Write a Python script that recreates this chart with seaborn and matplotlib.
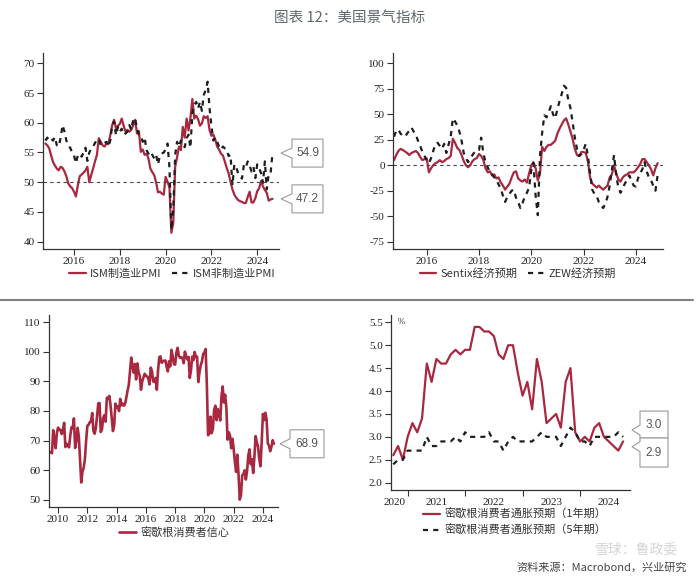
import matplotlib
matplotlib.use('Agg')
import matplotlib.pyplot as plt
import matplotlib.transforms as mtransforms
from matplotlib.patches import Polygon
from matplotlib.lines import Line2D
import pandas as pd
import seaborn as sns

# ---------------- data (monthly) ----------------
ism_start = '2014-10-01'
ism_mfg = [56.5, 56.2, 55.7,
           54.5, 53.4, 52.8, 52.3, 52.0, 52.6, 52.4, 51.8, 51.0, 49.8, 49.3, 49.0,
           48.4, 47.6, 49.5, 51.0, 51.3, 51.6, 52.0, 52.6, 50.0, 51.2, 52.3, 53.5,
           54.6, 57.4, 56.8, 56.2, 56.0, 56.5, 56.4, 57.9, 59.6, 60.5, 59.0, 59.5,
           59.8, 60.7, 59.5, 58.5, 58.8, 58.5, 58.8, 59.6, 60.5, 58.2, 58.6, 55.1,
           55.5, 54.6, 54.8, 54.0, 52.3, 51.7, 51.2, 50.0, 48.3, 48.4, 48.1, 47.9,
           50.9, 50.1, 49.1, 41.5, 43.1, 52.6, 54.2, 56.0, 55.4, 59.3, 57.5, 60.7,
           58.7, 60.8, 64.0, 60.7, 61.2, 60.6, 59.5, 59.9, 61.1, 60.8, 61.1, 58.8,
           57.8, 58.0, 57.2, 56.0, 55.5, 54.8, 54.5, 53.5, 52.4, 51.5, 50.1, 48.8,
           47.9, 47.4, 47.0, 46.8, 46.7, 46.5, 46.5, 47.5, 48.4, 46.6, 46.6, 47.3,
           48.5, 49.0, 50.2, 49.3, 48.7, 48.2, 46.9, 47.1, 47.2]
ism_srv = [57.0, 57.5, 57.0,
           57.3, 57.0, 57.6, 56.2, 56.0, 57.5, 59.6, 58.5, 57.0, 56.2, 55.8, 55.0,
           54.5, 53.2, 54.5, 54.8, 54.3, 55.0, 55.8, 53.6, 55.0, 55.6, 56.0, 56.6,
           57.1, 57.3, 56.2, 56.5, 56.6, 56.8, 56.0, 57.0, 59.6, 60.2, 57.9, 59.3,
           58.5, 59.0, 58.0, 58.2, 58.5, 59.6, 58.8, 60.5, 60.8, 59.0, 58.0, 57.9,
           56.8, 57.5, 55.4, 54.8, 55.2, 54.6, 54.0, 54.6, 53.0, 54.5, 54.8, 55.0,
           55.5, 56.5, 52.5, 42.0, 45.4, 54.6, 56.8, 56.0, 57.0, 56.3, 55.9, 57.4,
           58.0, 55.8, 61.6, 63.0, 63.5, 62.4, 63.5, 62.0, 64.7, 65.5, 66.9, 62.5,
           59.5, 57.0, 57.5, 56.8, 56.0, 55.5, 56.0, 55.7, 55.5, 54.4, 54.6, 49.5,
           53.0, 52.5, 51.5, 51.2, 50.6, 52.9, 52.5, 53.5, 52.8, 51.8, 52.6, 50.7,
           53.0, 52.4, 51.5, 49.9, 53.5, 48.8, 51.4, 51.5, 54.9]

exp_start = '2014-10-01'
sentix = [5, 10, 14,
          16, 15, 13.5, 12, 10, 12, 13, 14, 12, 8, 5, 6,
          6.7, -7, -3, 0, 2, 3, 5, 3, 4, 6, 7, 9,
          26, 22, 17, 15, 10, 4, 0, -2, 0, 4, 6, 7,
          11, 9, 5, -3, -7, -6, -10, -9, -13, -12, -17, -20,
          -24, -21, -18, -12, -7, -6, -13, -15, -16, -14, -17, -8,
          0, 3, -3, -15, -8, 18, 14, 18, 20, 20, 22, 24,
          31, 36, 40, 44, 46, 40, 33, 26, 16, 10, 9, 13,
          13, 12, 4, -12, -18, -20, -22, -20, -22, -24, -22, -20,
          -12, -9, 0, -8, -14, -16, -12, -10, -9, -7, -7, -7,
          -5, -2, 1, 6, 6, 3, 0, -4, -10, -3, 2]
zew = [28, 34, 35,
       31, 29, 28, 31, 34, 37, 33, 30, 24, 19, 13, 9,
       5, 2, 7, 14, 21, 22, 19, 16, 21, 12, 20, 28,
       46, 43, 39, 33, 24, 12, 7, 3, 6, 10, 13, 15,
       15, 27, 12, 3, -2, -7, -9, -12, -14, -19, -23, -30,
       -36, -31, -28, -25, -24, -32, -36, -42, -37, -31, -27, -22,
       -5, 2, -30, -49, 9, 32, 49, 47, 52, 58, 50, 46,
       55, 63, 70, 78, 76, 64, 56, 42, 27, 16, 9, 11,
       15, 21, 9, -8, -24, -28, -30, -36, -39, -42, -38, -31,
       -20, -5, 10, -10, -22, -27, -22, -18, -14, -10, -15, -20,
       -21, -13, -8, -4, 3, -6, -12, -15, -20, -25, -10]

umich_start = '2009-07-01'
umich = [66.0, 65.7, 73.5, 70.6, 67.4, 72.5,
         74.4, 73.6, 73.6, 72.2, 73.6, 76.0, 67.8, 68.9, 68.2, 67.7, 71.6, 74.5,
         74.2, 77.5, 67.5, 69.8, 74.3, 71.5, 63.7, 55.8, 59.5, 60.8, 63.7, 69.9,
         75.0, 75.3, 76.2, 76.4, 79.3, 73.2, 72.3, 74.3, 78.3, 82.6, 82.7, 72.9,
         73.8, 77.6, 78.6, 76.4, 84.5, 84.1, 85.1, 82.1, 77.5, 73.2, 75.1, 82.5,
         81.2, 81.6, 80.0, 84.1, 81.9, 82.5, 81.8, 82.5, 84.6, 86.9, 88.8, 93.6,
         98.1, 95.4, 93.0, 95.9, 90.7, 96.1, 93.1, 91.9, 87.2, 90.0, 91.3, 92.6,
         92.0, 91.7, 91.0, 89.0, 94.7, 93.5, 90.0, 89.8, 91.2, 87.2, 93.8, 98.2,
         98.5, 96.3, 96.9, 97.0, 97.1, 95.0, 93.4, 96.8, 95.1, 100.7, 98.5, 95.9,
         95.7, 99.7, 101.4, 98.8, 98.0, 98.2, 97.9, 96.2, 100.1, 98.6, 97.5, 98.3,
         91.2, 93.8, 98.4, 97.2, 100.0, 98.2, 98.4, 89.8, 93.2, 95.5, 96.8, 99.3,
         99.8, 101.0, 89.1, 71.8, 72.3, 78.1, 72.5, 74.1, 80.4, 81.8, 76.9, 80.7,
         79.0, 76.8, 84.9, 88.3, 82.9, 85.5, 81.2, 70.3, 72.8, 71.7, 67.4, 70.6,
         67.2, 62.8, 59.4, 65.2, 58.4, 50.0, 51.5, 58.2, 58.6, 59.9, 56.8, 59.7,
         64.9, 67.0, 62.0, 63.7, 59.0, 64.4, 71.5, 69.4, 67.9, 63.8, 61.3, 69.7,
         79.0, 76.9, 79.4, 77.2, 69.1, 68.2, 66.4, 67.9, 70.1, 68.9]

infl_start = '2020-10-01'
infl_1y = [2.6, 2.8, 2.5,
           3.0, 3.3, 3.1, 3.4, 4.6, 4.2, 4.7, 4.6, 4.6, 4.8, 4.9, 4.8,
           4.9, 4.9, 5.4, 5.4, 5.3, 5.3, 5.2, 4.8, 4.7, 5.0, 5.0, 4.4,
           3.9, 4.2, 3.6, 4.7, 4.2, 3.3, 3.4, 3.5, 3.2, 4.2, 4.5, 3.1,
           2.9, 3.0, 2.9, 3.2, 3.3, 3.0, 2.9, 2.8, 2.7, 2.9]
infl_5y = [2.4, 2.5, 2.5,
           2.7, 2.7, 2.7, 2.7, 3.0, 2.8, 2.8, 2.9, 2.9, 2.9, 3.0, 2.9,
           3.1, 3.0, 3.0, 3.0, 3.0, 3.1, 2.9, 2.9, 2.7, 2.9, 3.0, 2.9,
           2.9, 2.9, 2.9, 3.0, 3.1, 3.0, 3.0, 3.0, 2.8, 3.0, 3.2, 3.1,
           2.9, 2.9, 2.8, 3.0, 3.0, 3.0, 3.0, 3.0, 3.1, 3.0]

RED = '#a8283f'
DARK = '#1e1e1e'


def month_axis(start, n):
    d = pd.date_range(start, periods=n, freq='MS')
    return d.year + (d.month - 1) / 12.0


def style_axes(ax, xlim, ylim, xticks, yticks, yfmt='{:g}'):
    ax.set_xlim(xlim)
    ax.set_ylim(ylim)
    ax.set_xticks(xticks)
    ax.set_xticklabels([str(t) for t in xticks])
    ax.set_yticks(yticks)
    ax.set_yticklabels([yfmt.format(t) for t in yticks])
    sns.despine(ax=ax)
    for s in ['left', 'bottom']:
        ax.spines[s].set_color('#333333')
        ax.spines[s].set_linewidth(0.9)
    ax.tick_params(direction='out', length=4, width=0.8, color='#333333',
                   labelsize=8, labelcolor='#222222', pad=2)
    plt.setp(ax.get_xticklabels() + ax.get_yticklabels(), family='Liberation Serif')
    ax.set_xlabel('')
    ax.set_ylabel('')


def callout(ax, value, text, x0=12, width=32, top=14, bottom=-14, tip=0):
    # boxed label with a "<" pointer, offsets in pixels from the right edge / value
    fig = ax.figure
    anchor = mtransforms.blended_transform_factory(ax.transAxes, ax.transData)
    trans = (mtransforms.Affine2D().scale(1.0 / fig.dpi) + fig.dpi_scale_trans
             + mtransforms.ScaledTranslation(1.0, value, anchor))
    x1 = x0 + width
    verts = [(2, tip), (x0, min(tip + 5, top)), (x0, top), (x1, top),
             (x1, bottom), (x0, bottom), (x0, max(tip - 5, bottom))]
    ax.add_patch(Polygon(verts, closed=True, transform=trans, clip_on=False,
                         facecolor='white', edgecolor='#9a9a9a', linewidth=0.8))
    ax.text((x0 + x1) / 2, (top + bottom) / 2, text, transform=trans,
            ha='center', va='center', fontsize=8.5, color='#555555',
            family='Liberation Sans', clip_on=False)


def legend(ax, anchor, loc='center', ncol=2):
    h, l = ax.get_legend_handles_labels()
    ax.legend(h, l, loc=loc, bbox_to_anchor=anchor, ncol=ncol, frameon=False,
              fontsize=8, handlelength=1.5, handletextpad=0.4, columnspacing=0.9,
              borderpad=0, borderaxespad=0, labelcolor='#333333')


sns.set_style('ticks')
plt.rcParams['font.family'] = ['Noto Sans CJK SC', 'DejaVu Sans']
plt.rcParams['axes.unicode_minus'] = False

fig = plt.figure(figsize=(7, 5.82), dpi=100)
W, H = 700.0, 582.0


def add_ax(l, t, r, b):
    return fig.add_axes([l / W, 1 - b / H, (r - l) / W, (b - t) / H])


ax1 = add_ax(43, 53, 279, 249)
ax2 = add_ax(393, 53, 663, 249)
ax3 = add_ax(49, 315, 278, 507)
ax4 = add_ax(391, 315, 630, 490)

# --- top left: ISM PMI ---
x = month_axis(ism_start, len(ism_mfg))
sns.lineplot(x=x, y=ism_mfg, ax=ax1, color=RED, lw=1.6, label='ISM制造业PMI')
sns.lineplot(x=x, y=ism_srv, ax=ax1, color=DARK, lw=1.6, label='ISM非制造业PMI')
ax1.lines[-1].set_dashes((2.3, 2.3))
ax1.axhline(50, color='#444444', lw=0.8, dashes=(3, 3))
style_axes(ax1, (2014.646, 2024.95), (38.77, 71.73), list(range(2016, 2025, 2)),
           list(range(40, 71, 5)))
legend(ax1, (0.547, -0.125))
callout(ax1, ism_srv[-1], f'{ism_srv[-1]:.1f}', x0=13, width=31)
callout(ax1, ism_mfg[-1], f'{ism_mfg[-1]:.1f}', x0=13, width=31)

# --- top right: Sentix / ZEW ---
x = month_axis(exp_start, len(sentix))
sns.lineplot(x=x, y=sentix, ax=ax2, color=RED, lw=1.6, label='Sentix经济预期')
sns.lineplot(x=x, y=zew, ax=ax2, color=DARK, lw=1.6, label='ZEW经济预期')
ax2.lines[-1].set_dashes((2.3, 2.3))
ax2.axhline(0, color='#444444', lw=0.8, dashes=(3, 3))
style_axes(ax2, (2014.71, 2025.04), (-82.2, 110.1), list(range(2016, 2025, 2)),
           list(range(-75, 101, 25)))
legend(ax2, (0.463, -0.125))

# --- bottom left: Michigan sentiment ---
x = month_axis(umich_start, len(umich))
sns.lineplot(x=x, y=umich, ax=ax3, color=RED, lw=1.9, label='密歇根消费者信心')
style_axes(ax3, (2009.38, 2025.03), (47.5, 112.5), list(range(2010, 2025, 2)),
           list(range(50, 111, 10)))
legend(ax3, (0.546, -0.13), ncol=1)
callout(ax3, umich[-1], f'{umich[-1]:.1f}', x0=12, width=34)

# --- bottom right: Michigan inflation expectations ---
x = month_axis(infl_start, len(infl_1y))
sns.lineplot(x=x, y=infl_1y, ax=ax4, color=RED, lw=1.6, label='密歇根消费者通胀预期（1年期）')
sns.lineplot(x=x, y=infl_5y, ax=ax4, color=DARK, lw=1.6, label='密歇根消费者通胀预期（5年期）')
ax4.lines[-1].set_dashes((2.3, 2.3))
style_axes(ax4, (2020.71, 2024.87), (1.84, 5.66), [2021, 2022, 2023, 2024],
           [2.0, 2.5, 3.0, 3.5, 4.0, 4.5, 5.0, 5.5], yfmt='{:.1f}')
ax4.set_xticklabels([])
ax4.set_xticks([2020.78, 2021.5, 2022.5, 2023.5, 2024.5], minor=True)
ax4.set_xticklabels(['2020', '2021', '2022', '2023', '2024'], minor=True)
ax4.tick_params(axis='x', which='minor', length=0, labelsize=8, labelcolor='#222222', pad=6)
plt.setp(ax4.get_xticklabels(minor=True), family='Liberation Serif')
ax4.text(0.03, 0.96, '%', transform=ax4.transAxes, fontsize=6.5, color='#333333',
         family='Liberation Serif', va='center')
legend(ax4, (0.134, -0.185), loc='center left', ncol=1)
callout(ax4, infl_5y[-1], f'{infl_5y[-1]:.1f}', x0=10, width=28, top=25.8, bottom=-1.2, tip=6.8)
callout(ax4, infl_1y[-1], f'{infl_1y[-1]:.1f}', x0=10, width=28, top=3.4, bottom=-25.6, tip=-5.3)

# --- figure furniture ---
fig.text(0.5, 1 - 18 / H, '图表 12：美国景气指标', ha='center', va='center',
         fontsize=10.5, color='#5f6670')
fig.add_artist(Line2D([0.0, 0.99], [1 - 300 / H] * 2, color='#808080', lw=1.5))
fig.text(678 / W, 1 - 550 / H, '雪球：鲁政委', ha='right', va='center',
         fontsize=10, color='#d4d4d4', zorder=0)
fig.text(687 / W, 1 - 567 / H, '资料来源：Macrobond，兴业研究', ha='right', va='center',
         fontsize=8, color='#444444')

fig.savefig('out.png', dpi=100)
